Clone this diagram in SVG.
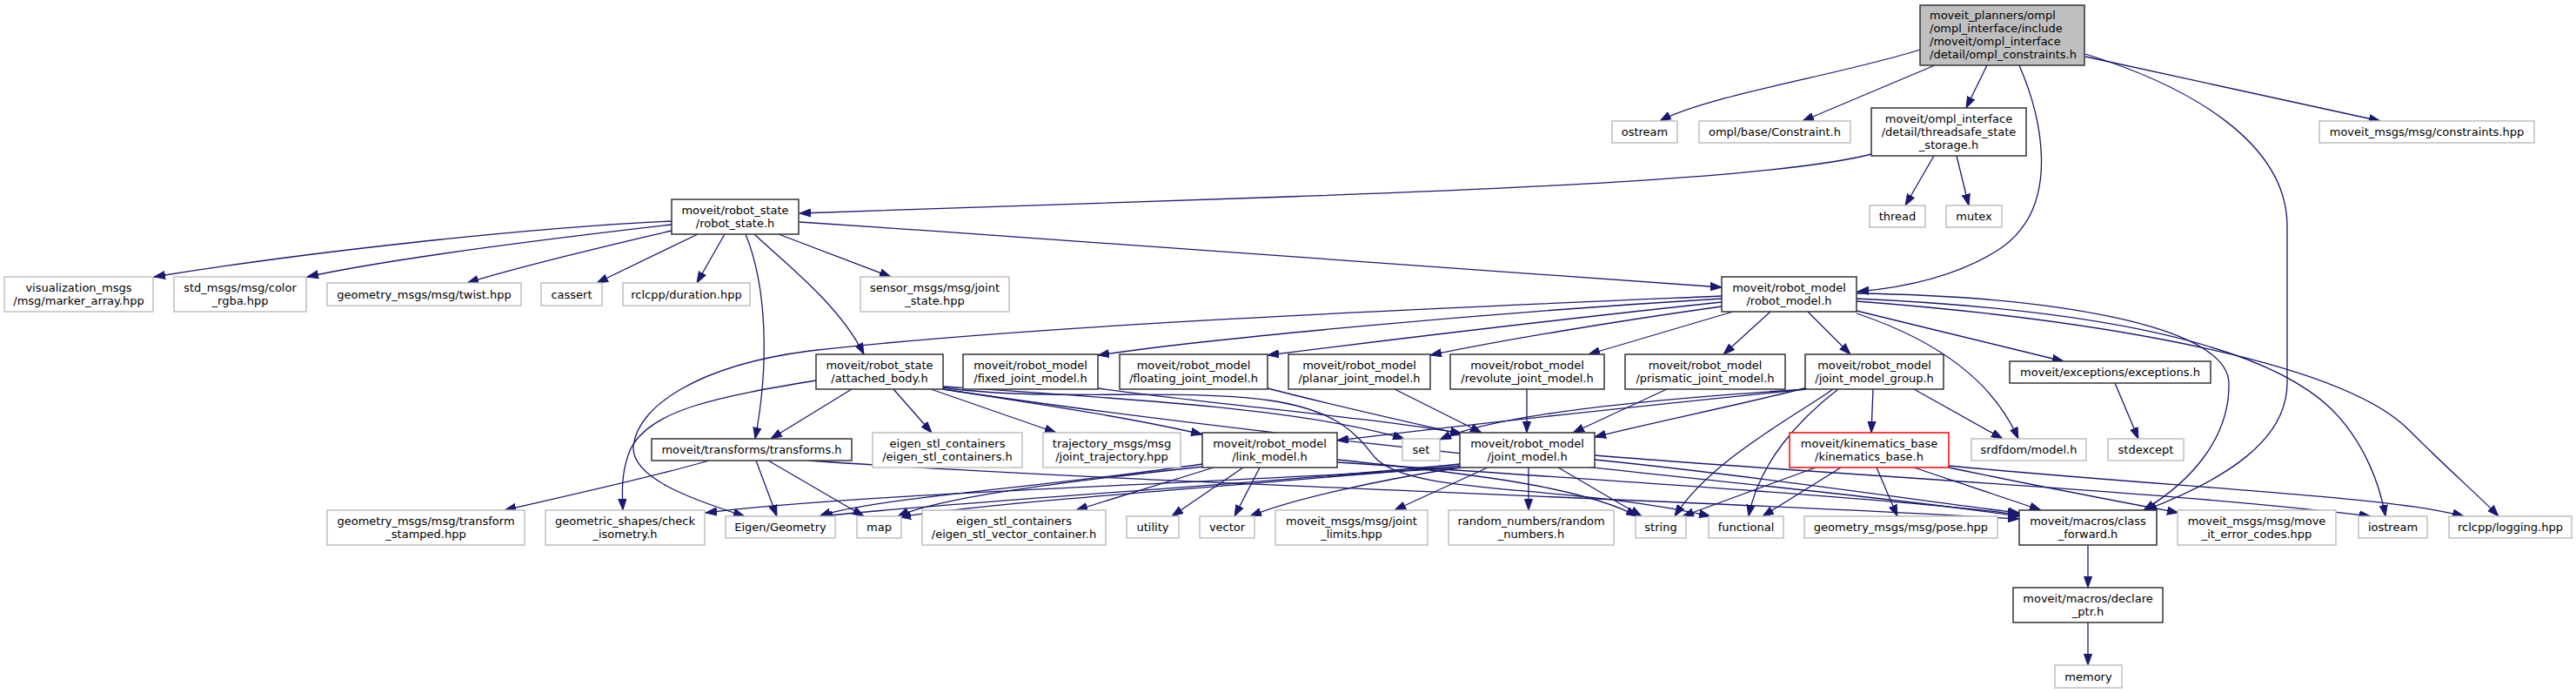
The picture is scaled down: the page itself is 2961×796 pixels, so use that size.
<svg xmlns="http://www.w3.org/2000/svg" width="2961" height="796" viewBox="0 0 2961 796">
<style>
rect{stroke-width:1.5}
.n{fill:#fff;stroke:#333}
.g{fill:#fff;stroke:#bfbfbf}
.r{fill:#fff;stroke:#ff0000}
.root{fill:#bfbfbf;stroke:#333}
text{font-family:"DejaVu Sans",sans-serif;font-size:13px;fill:#000;text-anchor:middle}
.lt{text-anchor:start}
#edges path{fill:none;stroke:#191970;stroke-width:1.3}
</style>
<defs>
<marker id="a" viewBox="0 0 13 10" refX="13" refY="5" markerWidth="13" markerHeight="10" markerUnits="userSpaceOnUse" orient="auto">
<path d="M0,0.4 L13,5 L0,9.6 z" fill="#191970" stroke="#191970" stroke-width="1"/>
</marker>
</defs>
<rect width="2961" height="796" fill="#fff"/>
<g id="edges">
<path marker-end="url(#a)" d="M2207,57 C2120,85 1960,110 1908,139"/>
<path marker-end="url(#a)" d="M2224,75 L2072,139"/>
<path marker-end="url(#a)" d="M2284,75 L2260,124"/>
<path marker-end="url(#a)" d="M2321,75 C2345,130 2372,235 2300,285 C2250,318 2190,330 2135,335"/>
<path marker-end="url(#a)" d="M2397,62 C2520,100 2629,165 2629,260 L2629,440 C2629,505 2560,550 2466,586"/>
<path marker-end="url(#a)" d="M2397,65 L2736,139"/>
<path marker-end="url(#a)" d="M2155,176 C2050,205 1700,218 1480,226 C1250,234 1050,240 919,245"/>
<path marker-end="url(#a)" d="M2223,179 L2190,236"/>
<path marker-end="url(#a)" d="M2249,179 L2263,236"/>
<path marker-end="url(#a)" d="M772,254 C600,262 350,290 177,318"/>
<path marker-end="url(#a)" d="M772,258 C650,272 450,297 353,318"/>
<path marker-end="url(#a)" d="M772,265 C700,282 600,305 537,325"/>
<path marker-end="url(#a)" d="M802,269 L686,325"/>
<path marker-end="url(#a)" d="M833,269 L801,325"/>
<path marker-end="url(#a)" d="M895,269 L1024,318"/>
<path marker-end="url(#a)" d="M867,269 C900,300 965,350 993,407"/>
<path marker-end="url(#a)" d="M857,269 C882,330 884,420 868,504"/>
<path marker-end="url(#a)" d="M919,255 C1300,280 1700,312 1979,330"/>
<path marker-end="url(#a)" d="M1979,340 C1700,352 1200,372 931,403 C800,420 732,468 728,513 C726,548 790,572 856,593"/>
<path marker-end="url(#a)" d="M1979,343 C1700,360 1400,388 1262,408"/>
<path marker-end="url(#a)" d="M1979,347 C1800,366 1600,390 1457,408"/>
<path marker-end="url(#a)" d="M1979,352 C1850,370 1720,392 1644,408"/>
<path marker-end="url(#a)" d="M1992,358 L1826,407"/>
<path marker-end="url(#a)" d="M2035,358 L1981,407"/>
<path marker-end="url(#a)" d="M2078,358 L2127,407"/>
<path marker-end="url(#a)" d="M2134,357 L2372,415"/>
<path marker-end="url(#a)" d="M2134,360 C2230,392 2292,440 2320,504"/>
<path marker-end="url(#a)" d="M2134,337 C2350,340 2560,372 2562,440 C2563,502 2520,552 2464,586"/>
<path marker-end="url(#a)" d="M2134,343 C2400,355 2600,392 2680,470 C2720,510 2736,560 2742,593"/>
<path marker-end="url(#a)" d="M2134,346 C2450,370 2700,422 2770,495 C2815,540 2852,572 2872,593"/>
<path marker-end="url(#a)" d="M2078,445 C2000,465 1900,485 1833,502"/>
<path marker-end="url(#a)" d="M2077,447 C1900,458 1720,476 1655,505"/>
<path marker-end="url(#a)" d="M2076,447 C1850,470 1650,492 1537,506"/>
<path marker-end="url(#a)" d="M2107,447 C2060,480 1965,530 1925,593"/>
<path marker-end="url(#a)" d="M2113,447 C2070,480 2022,530 2010,593"/>
<path marker-end="url(#a)" d="M2153,447 L2151,497"/>
<path marker-end="url(#a)" d="M2200,447 L2302,504"/>
<path marker-end="url(#a)" d="M2431,440 L2458,504"/>
<path marker-end="url(#a)" d="M979,447 L886,504"/>
<path marker-end="url(#a)" d="M1027,447 L1071,497"/>
<path marker-end="url(#a)" d="M1070,447 L1214,497"/>
<path marker-end="url(#a)" d="M1084,447 C1200,465 1300,480 1382,499"/>
<path marker-end="url(#a)" d="M1084,444 C1300,458 1500,470 1614,504"/>
<path marker-end="url(#a)" d="M1084,445 C1200,462 1360,445 1460,460 C1540,472 1560,500 1580,525 C1620,570 1800,555 1966,593"/>
<path marker-end="url(#a)" d="M938,437 C830,455 742,470 723,520 C714,545 715,565 716,586"/>
<path marker-end="url(#a)" d="M1084,447 C1500,510 2100,560 2321,593"/>
<path marker-end="url(#a)" d="M1262,446 C1400,465 1580,480 1680,498"/>
<path marker-end="url(#a)" d="M1457,446 C1530,465 1620,485 1681,499"/>
<path marker-end="url(#a)" d="M1603,447 L1703,497"/>
<path marker-end="url(#a)" d="M1755,447 L1755,497"/>
<path marker-end="url(#a)" d="M1916,447 L1808,497"/>
<path marker-end="url(#a)" d="M815,529 C750,548 650,570 580,586"/>
<path marker-end="url(#a)" d="M869,529 L893,593"/>
<path marker-end="url(#a)" d="M883,529 L993,593"/>
<path marker-end="url(#a)" d="M929,529 C1300,555 1900,572 2321,596"/>
<path marker-end="url(#a)" d="M1382,533 C1200,560 1000,572 942,593"/>
<path marker-end="url(#a)" d="M1383,536 C1200,556 1080,572 1032,593"/>
<path marker-end="url(#a)" d="M1395,537 L1237,586"/>
<path marker-end="url(#a)" d="M1429,537 L1347,593"/>
<path marker-end="url(#a)" d="M1448,537 L1419,593"/>
<path marker-end="url(#a)" d="M1537,528 C1700,545 1820,560 1882,593"/>
<path marker-end="url(#a)" d="M1537,531 C1900,555 2200,575 2321,591"/>
<path marker-end="url(#a)" d="M1710,537 L1603,586"/>
<path marker-end="url(#a)" d="M1757,537 L1757,586"/>
<path marker-end="url(#a)" d="M1791,537 L1887,593"/>
<path marker-end="url(#a)" d="M1833,523 C2100,545 2500,565 2725,593"/>
<path marker-end="url(#a)" d="M1833,528 C2050,550 2200,575 2321,589"/>
<path marker-end="url(#a)" d="M1678,533 C1450,556 1100,576 944,593"/>
<path marker-end="url(#a)" d="M1678,535 C1400,560 1150,576 1034,594"/>
<path marker-end="url(#a)" d="M1678,537 C1580,552 1480,575 1437,593"/>
<path marker-end="url(#a)" d="M1680,537 C1400,555 1000,566 811,589"/>
<path marker-end="url(#a)" d="M2087,537 L1934,593"/>
<path marker-end="url(#a)" d="M2116,537 L2026,593"/>
<path marker-end="url(#a)" d="M2157,537 L2181,593"/>
<path marker-end="url(#a)" d="M2200,537 L2346,586"/>
<path marker-end="url(#a)" d="M2240,537 C2350,560 2430,575 2504,589"/>
<path marker-end="url(#a)" d="M2240,535 C2500,560 2750,570 2832,593"/>
<path marker-end="url(#a)" d="M2400,626 L2400,675"/>
<path marker-end="url(#a)" d="M2400,715 L2400,764"/>
</g>
<g id="root"><rect class="root" x="2207" y="6" width="189" height="69"/><text class="lt" x="2218" y="22">moveit_planners/ompl</text><text class="lt" x="2218" y="37">/ompl_interface/include</text><text class="lt" x="2218" y="52">/moveit/ompl_interface</text><text class="lt" x="2218" y="67">/detail/ompl_constraints.h</text></g>
<g id="n_ostream"><rect class="g" x="1853" y="139" width="75" height="25"/><text x="1890.5" y="156">ostream</text></g>
<g id="n_constraint"><rect class="g" x="1953" y="139" width="174" height="25"/><text x="2040" y="156">ompl/base/Constraint.h</text></g>
<g id="n_threadsafe"><rect class="n" x="2151" y="124" width="178" height="55"/><text x="2240" y="141">moveit/ompl_interface</text><text x="2240" y="156">/detail/threadsafe_state</text><text x="2240" y="171">_storage.h</text></g>
<g id="n_constraints_hpp"><rect class="g" x="2666" y="139" width="247" height="25"/><text x="2789.5" y="156">moveit_msgs/msg/constraints.hpp</text></g>
<g id="n_thread"><rect class="g" x="2149" y="236" width="64" height="25"/><text x="2181" y="253">thread</text></g>
<g id="n_mutex"><rect class="g" x="2237" y="236" width="64" height="25"/><text x="2269" y="253">mutex</text></g>
<g id="n_robot_state"><rect class="n" x="772" y="229" width="146" height="40"/><text x="845" y="246">moveit/robot_state</text><text x="845" y="261">/robot_state.h</text></g>
<g id="n_vis"><rect class="g" x="5" y="318" width="171" height="40"/><text x="90.5" y="335">visualization_msgs</text><text x="90.5" y="350">/msg/marker_array.hpp</text></g>
<g id="n_color"><rect class="g" x="200" y="318" width="152" height="40"/><text x="276" y="335">std_msgs/msg/color</text><text x="276" y="350">_rgba.hpp</text></g>
<g id="n_twist"><rect class="g" x="376" y="325" width="223" height="26"/><text x="487.5" y="342.5">geometry_msgs/msg/twist.hpp</text></g>
<g id="n_cassert"><rect class="g" x="622" y="325" width="70" height="26"/><text x="657" y="342.5">cassert</text></g>
<g id="n_duration"><rect class="g" x="716" y="325" width="146" height="26"/><text x="789" y="342.5">rclcpp/duration.hpp</text></g>
<g id="n_joint_state"><rect class="g" x="989" y="318" width="171" height="40"/><text x="1074.5" y="335">sensor_msgs/msg/joint</text><text x="1074.5" y="350">_state.hpp</text></g>
<g id="n_robot_model"><rect class="n" x="1979" y="318" width="155" height="40"/><text x="2056.5" y="335">moveit/robot_model</text><text x="2056.5" y="350">/robot_model.h</text></g>
<g id="n_attached"><rect class="n" x="938" y="407" width="146" height="40"/><text x="1011" y="424">moveit/robot_state</text><text x="1011" y="439">/attached_body.h</text></g>
<g id="n_fixed"><rect class="n" x="1107" y="407" width="155" height="40"/><text x="1184.5" y="424">moveit/robot_model</text><text x="1184.5" y="439">/fixed_joint_model.h</text></g>
<g id="n_floating"><rect class="n" x="1287" y="407" width="170" height="40"/><text x="1372" y="424">moveit/robot_model</text><text x="1372" y="439">/floating_joint_model.h</text></g>
<g id="n_planar"><rect class="n" x="1481" y="407" width="163" height="40"/><text x="1562.5" y="424">moveit/robot_model</text><text x="1562.5" y="439">/planar_joint_model.h</text></g>
<g id="n_revolute"><rect class="n" x="1667" y="407" width="177" height="40"/><text x="1755.5" y="424">moveit/robot_model</text><text x="1755.5" y="439">/revolute_joint_model.h</text></g>
<g id="n_prismatic"><rect class="n" x="1868" y="407" width="184" height="40"/><text x="1960" y="424">moveit/robot_model</text><text x="1960" y="439">/prismatic_joint_model.h</text></g>
<g id="n_jmg"><rect class="n" x="2075" y="407" width="159" height="40"/><text x="2154.5" y="424">moveit/robot_model</text><text x="2154.5" y="439">/joint_model_group.h</text></g>
<g id="n_exceptions"><rect class="n" x="2310" y="415" width="231" height="25"/><text x="2425.5" y="432">moveit/exceptions/exceptions.h</text></g>
<g id="n_transforms"><rect class="n" x="749" y="504" width="230" height="25"/><text x="864" y="521">moveit/transforms/transforms.h</text></g>
<g id="n_eigen_stl"><rect class="g" x="1003" y="497" width="172" height="40"/><text x="1089" y="514">eigen_stl_containers</text><text x="1089" y="529">/eigen_stl_containers.h</text></g>
<g id="n_trajectory"><rect class="g" x="1199" y="497" width="158" height="40"/><text x="1278" y="514">trajectory_msgs/msg</text><text x="1278" y="529">/joint_trajectory.hpp</text></g>
<g id="n_link"><rect class="n" x="1382" y="497" width="155" height="40"/><text x="1459.5" y="514">moveit/robot_model</text><text x="1459.5" y="529">/link_model.h</text></g>
<g id="n_set"><rect class="g" x="1612" y="504" width="43" height="25"/><text x="1633.5" y="521">set</text></g>
<g id="n_joint"><rect class="n" x="1678" y="497" width="155" height="40"/><text x="1755.5" y="514">moveit/robot_model</text><text x="1755.5" y="529">/joint_model.h</text></g>
<g id="n_kin"><rect class="r" x="2057" y="497" width="183" height="40"/><text x="2148.5" y="514">moveit/kinematics_base</text><text x="2148.5" y="529">/kinematics_base.h</text></g>
<g id="n_srdf"><rect class="g" x="2266" y="504" width="132" height="25"/><text x="2332" y="521">srdfdom/model.h</text></g>
<g id="n_stdexcept"><rect class="g" x="2423" y="504" width="87" height="25"/><text x="2466.5" y="521">stdexcept</text></g>
<g id="n_tfstamped"><rect class="g" x="376" y="586" width="227" height="40"/><text x="489.5" y="603">geometry_msgs/msg/transform</text><text x="489.5" y="618">_stamped.hpp</text></g>
<g id="n_check"><rect class="g" x="627" y="586" width="183" height="40"/><text x="718.5" y="603">geometric_shapes/check</text><text x="718.5" y="618">_isometry.h</text></g>
<g id="n_eigen"><rect class="g" x="834" y="593" width="126" height="25"/><text x="897" y="610">Eigen/Geometry</text></g>
<g id="n_map"><rect class="g" x="985" y="593" width="51" height="25"/><text x="1010.5" y="610">map</text></g>
<g id="n_vec_container"><rect class="g" x="1060" y="586" width="211" height="40"/><text x="1165.5" y="603">eigen_stl_containers</text><text x="1165.5" y="618">/eigen_stl_vector_container.h</text></g>
<g id="n_utility"><rect class="g" x="1295" y="593" width="60" height="25"/><text x="1325" y="610">utility</text></g>
<g id="n_vector"><rect class="g" x="1379" y="593" width="63" height="25"/><text x="1410.5" y="610">vector</text></g>
<g id="n_limits"><rect class="g" x="1466" y="586" width="175" height="40"/><text x="1553.5" y="603">moveit_msgs/msg/joint</text><text x="1553.5" y="618">_limits.hpp</text></g>
<g id="n_random"><rect class="g" x="1665" y="586" width="190" height="40"/><text x="1760" y="603">random_numbers/random</text><text x="1760" y="618">_numbers.h</text></g>
<g id="n_string"><rect class="g" x="1880" y="593" width="58" height="25"/><text x="1909" y="610">string</text></g>
<g id="n_functional"><rect class="g" x="1964" y="593" width="86" height="25"/><text x="2007" y="610">functional</text></g>
<g id="n_pose"><rect class="g" x="2074" y="593" width="222" height="25"/><text x="2185" y="610">geometry_msgs/msg/pose.hpp</text></g>
<g id="n_classfwd"><rect class="n" x="2321" y="586" width="158" height="40"/><text x="2400" y="603">moveit/macros/class</text><text x="2400" y="618">_forward.h</text></g>
<g id="n_errcodes"><rect class="g" x="2503" y="586" width="182" height="40"/><text x="2594" y="603">moveit_msgs/msg/move</text><text x="2594" y="618">_it_error_codes.hpp</text></g>
<g id="n_iostream"><rect class="g" x="2711" y="593" width="79" height="25"/><text x="2750.5" y="610">iostream</text></g>
<g id="n_logging"><rect class="g" x="2815" y="593" width="141" height="25"/><text x="2885.5" y="610">rclcpp/logging.hpp</text></g>
<g id="n_declare"><rect class="n" x="2314" y="675" width="172" height="40"/><text x="2400" y="692">moveit/macros/declare</text><text x="2400" y="707">_ptr.h</text></g>
<g id="n_memory"><rect class="g" x="2362" y="764" width="77" height="26"/><text x="2400.5" y="781.5">memory</text></g>
</svg>
